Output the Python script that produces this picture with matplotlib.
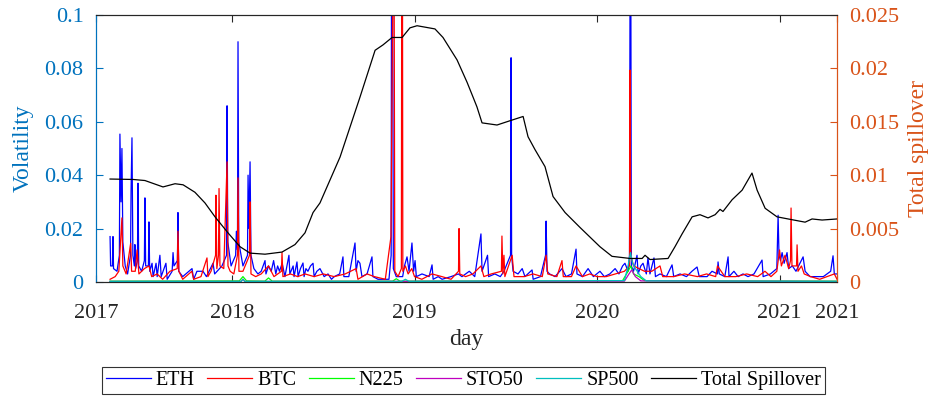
import numpy as np
import matplotlib
matplotlib.use("Agg")
import matplotlib.pyplot as plt
from matplotlib.ticker import FormatStrFormatter

plt.rcParams['font.family'] = ['Liberation Serif', 'DejaVu Serif']

# ETH volatility (decimal year, value)
eth_x = [2017.332, 2017.335, 2017.345, 2017.348, 2017.351, 2017.370, 2017.383, 2017.386, 2017.392, 2017.397,
         2017.402, 2017.415, 2017.428, 2017.444, 2017.447, 2017.452, 2017.457, 2017.465, 2017.468, 2017.472,
         2017.482, 2017.485, 2017.489, 2017.505, 2017.520, 2017.523, 2017.527, 2017.542, 2017.545, 2017.549,
         2017.562, 2017.568, 2017.584, 2017.590, 2017.605, 2017.612, 2017.638, 2017.645, 2017.672, 2017.677,
         2017.682, 2017.701, 2017.704, 2017.708, 2017.730, 2017.781, 2017.790, 2017.808, 2017.841, 2017.860,
         2017.896, 2017.905, 2017.945, 2017.970, 2017.973, 2017.977, 2017.995, 2018.020, 2018.024, 2018.030,
         2018.033, 2018.037, 2018.060, 2018.085, 2018.088, 2018.093, 2018.099, 2018.104, 2018.120, 2018.142,
         2018.160, 2018.181, 2018.186, 2018.200, 2018.215, 2018.228, 2018.240, 2018.250, 2018.260, 2018.275,
         2018.290, 2018.312, 2018.317, 2018.335, 2018.340, 2018.356, 2018.362, 2018.375, 2018.389, 2018.395,
         2018.405, 2018.416, 2018.430, 2018.444, 2018.450, 2018.465, 2018.482, 2018.505, 2018.526, 2018.545,
         2018.560, 2018.590, 2018.608, 2018.613, 2018.640, 2018.674, 2018.680, 2018.690, 2018.701, 2018.712,
         2018.740, 2018.767, 2018.772, 2018.800, 2018.860, 2018.872, 2018.874, 2018.880, 2018.884, 2018.900,
         2018.935, 2018.945, 2018.959, 2018.970, 2018.986, 2018.995, 2019.003, 2019.010, 2019.041, 2019.080,
         2019.096, 2019.102, 2019.130, 2019.151, 2019.200, 2019.240, 2019.260, 2019.300, 2019.330, 2019.364,
         2019.370, 2019.400, 2019.406, 2019.440, 2019.470, 2019.490, 2019.526, 2019.529, 2019.532, 2019.540,
         2019.567, 2019.590, 2019.605, 2019.644, 2019.650, 2019.690, 2019.718, 2019.721, 2019.726, 2019.740,
         2019.770, 2019.808, 2019.830, 2019.860, 2019.885, 2019.890, 2019.920, 2019.951, 2019.980, 2020.016,
         2020.040, 2020.070, 2020.099, 2020.120, 2020.140, 2020.153, 2020.170, 2020.178, 2020.181, 2020.185,
         2020.188, 2020.200, 2020.219, 2020.225, 2020.240, 2020.252, 2020.270, 2020.279, 2020.290, 2020.312,
         2020.320, 2020.345, 2020.380, 2020.411, 2020.420, 2020.455, 2020.490, 2020.520, 2020.548, 2020.560,
         2020.603, 2020.630, 2020.660, 2020.663, 2020.670, 2020.700, 2020.718, 2020.723, 2020.750, 2020.773,
         2020.800, 2020.827, 2020.860, 2020.904, 2020.910, 2020.950, 2020.985, 2020.992, 2020.997, 2021.005,
         2021.014, 2021.025, 2021.041, 2021.050, 2021.070, 2021.090, 2021.129, 2021.140, 2021.167, 2021.205,
         2021.240, 2021.280, 2021.293, 2021.300, 2021.315]
eth_v = [0.017, 0.006, 0.006, 0.017, 0.005, 0.004, 0.010, 0.0554, 0.030, 0.050,
         0.015, 0.006, 0.003, 0.010, 0.034, 0.054, 0.010, 0.006, 0.014, 0.005,
         0.008, 0.037, 0.006, 0.004, 0.008, 0.0315, 0.006, 0.006, 0.0225, 0.004,
         0.007, 0.002, 0.007, 0.002, 0.010, 0.002, 0.007, 0.001, 0.004, 0.011,
         0.006, 0.008, 0.026, 0.004, 0.002, 0.005, 0.001, 0.004, 0.004, 0.002,
         0.007, 0.003, 0.006, 0.010, 0.066, 0.015, 0.006, 0.010, 0.019, 0.012,
         0.090, 0.015, 0.006, 0.010, 0.040, 0.020, 0.045, 0.010, 0.005, 0.003,
         0.004, 0.008, 0.003, 0.006, 0.004, 0.008, 0.003, 0.006, 0.004, 0.007,
         0.002, 0.010, 0.003, 0.006, 0.002, 0.0075, 0.002, 0.005, 0.0071, 0.002,
         0.005, 0.004, 0.006, 0.007, 0.002, 0.004, 0.005, 0.002, 0.003, 0.001,
         0.002, 0.003, 0.0094, 0.002, 0.002, 0.0146, 0.004, 0.008, 0.007, 0.002,
         0.003, 0.0094, 0.002, 0.001, 0.001, 0.010, 0.120, 0.120, 0.005, 0.002,
         0.002, 0.006, 0.0094, 0.004, 0.0146, 0.004, 0.008, 0.002, 0.003, 0.002,
         0.0064, 0.001, 0.002, 0.001, 0.002, 0.003, 0.002, 0.004, 0.002, 0.018,
         0.004, 0.010, 0.002, 0.003, 0.002, 0.004, 0.010, 0.084, 0.010, 0.004,
         0.003, 0.005, 0.002, 0.0045, 0.001, 0.002, 0.010, 0.0228, 0.004, 0.003,
         0.002, 0.005, 0.002, 0.003, 0.0123, 0.003, 0.002, 0.005, 0.002, 0.004,
         0.002, 0.003, 0.005, 0.003, 0.006, 0.007, 0.004, 0.010, 0.120, 0.120,
         0.006, 0.004, 0.010, 0.003, 0.006, 0.007, 0.003, 0.009, 0.003, 0.009,
         0.002, 0.003, 0.002, 0.0064, 0.002, 0.003, 0.002, 0.004, 0.0056, 0.002,
         0.002, 0.004, 0.003, 0.0075, 0.003, 0.002, 0.0094, 0.002, 0.004, 0.002,
         0.003, 0.002, 0.003, 0.0082, 0.002, 0.003, 0.005, 0.025, 0.010, 0.008,
         0.011, 0.007, 0.011, 0.005, 0.006, 0.004, 0.0094, 0.004, 0.002, 0.002,
         0.002, 0.004, 0.0098, 0.003, 0.003]

# BTC volatility
btc_x = [2017.332, 2017.360, 2017.380, 2017.397, 2017.402, 2017.420, 2017.445, 2017.450, 2017.470, 2017.480,
         2017.490, 2017.520, 2017.545, 2017.560, 2017.590, 2017.620, 2017.660, 2017.700, 2017.704, 2017.709,
         2017.730, 2017.780, 2017.790, 2017.830, 2017.863, 2017.868, 2017.885, 2017.910, 2017.912, 2017.917,
         2017.926, 2017.929, 2017.934, 2017.955, 2017.973, 2017.978, 2017.990, 2018.010, 2018.030, 2018.033,
         2018.038, 2018.060, 2018.096, 2018.099, 2018.104, 2018.130, 2018.160, 2018.200, 2018.230, 2018.271,
         2018.274, 2018.279, 2018.320, 2018.360, 2018.400, 2018.450, 2018.500, 2018.560, 2018.620, 2018.680,
         2018.690, 2018.740, 2018.780, 2018.840, 2018.871, 2018.882, 2018.888, 2018.892, 2018.910, 2018.928,
         2018.930, 2018.934, 2018.936, 2018.950, 2018.965, 2018.985, 2019.000, 2019.040, 2019.096, 2019.150,
         2019.200, 2019.241, 2019.244, 2019.248, 2019.280, 2019.320, 2019.364, 2019.380, 2019.420, 2019.476,
         2019.479, 2019.484, 2019.490, 2019.495, 2019.535, 2019.545, 2019.600, 2019.650, 2019.700, 2019.721,
         2019.730, 2019.780, 2019.808, 2019.815, 2019.860, 2019.885, 2019.920, 2019.960, 2020.000, 2020.050,
         2020.100, 2020.150, 2020.178, 2020.181, 2020.185, 2020.200, 2020.230, 2020.260, 2020.300, 2020.345,
         2020.360, 2020.420, 2020.480, 2020.550, 2020.600, 2020.650, 2020.660, 2020.700, 2020.760, 2020.820,
         2020.880, 2020.920, 2020.953, 2020.985, 2021.000, 2021.010, 2021.030, 2021.050, 2021.060, 2021.063,
         2021.068, 2021.093, 2021.096, 2021.101, 2021.120, 2021.135, 2021.170, 2021.220, 2021.260, 2021.300,
         2021.315]
btc_v = [0.001, 0.002, 0.004, 0.024, 0.006, 0.003, 0.0145, 0.004, 0.004, 0.012,
         0.003, 0.005, 0.006, 0.002, 0.003, 0.001, 0.004, 0.005, 0.019, 0.004,
         0.001, 0.004, 0.001, 0.002, 0.009, 0.002, 0.004, 0.010, 0.0325, 0.005,
         0.010, 0.035, 0.006, 0.005, 0.045, 0.006, 0.004, 0.003, 0.010, 0.039,
         0.004, 0.004, 0.010, 0.030, 0.003, 0.002, 0.003, 0.006, 0.002, 0.004,
         0.011, 0.002, 0.003, 0.002, 0.003, 0.002, 0.003, 0.002, 0.003, 0.005,
         0.001, 0.003, 0.002, 0.001, 0.017, 0.120, 0.120, 0.004, 0.002, 0.005,
         0.120, 0.120, 0.004, 0.006, 0.003, 0.005, 0.002, 0.001, 0.003, 0.002,
         0.001, 0.004, 0.020, 0.003, 0.002, 0.003, 0.006, 0.002, 0.003, 0.004,
         0.0172, 0.003, 0.010, 0.002, 0.010, 0.002, 0.002, 0.003, 0.002, 0.010,
         0.003, 0.002, 0.008, 0.002, 0.002, 0.006, 0.002, 0.003, 0.002, 0.002,
         0.003, 0.004, 0.006, 0.0794, 0.010, 0.006, 0.005, 0.004, 0.004, 0.006,
         0.002, 0.002, 0.003, 0.002, 0.003, 0.002, 0.006, 0.002, 0.002, 0.003,
         0.002, 0.004, 0.002, 0.004, 0.012, 0.006, 0.010, 0.005, 0.008, 0.0277,
         0.006, 0.006, 0.0139, 0.004, 0.006, 0.003, 0.002, 0.001, 0.002, 0.003,
         0.001]

# stock indices, near zero except around March 2020
n225_x = [2017.332, 2018.040, 2018.060, 2018.080, 2018.180, 2018.200, 2018.220, 2018.880, 2018.900, 2018.920,
          2020.140, 2020.170, 2020.185, 2020.200, 2020.230, 2020.260, 2021.315]
n225_v = [0.0003, 0.0004, 0.0020, 0.0004, 0.0003, 0.0015, 0.0003, 0.0003, 0.0012, 0.0003,
          0.0005, 0.0040, 0.0060, 0.0030, 0.0020, 0.0005, 0.0003]
sto50_x = [2017.332, 2018.050, 2018.060, 2018.070, 2020.150, 2020.175, 2020.190, 2020.210, 2020.240, 2021.315]
sto50_v = [0.0002, 0.0002, 0.0010, 0.0002, 0.0003, 0.0030, 0.0045, 0.0020, 0.0004, 0.0002]
sp500_x = [2017.332, 2018.050, 2018.060, 2018.070, 2018.930, 2018.950, 2018.970, 2020.150, 2020.170, 2020.183,
           2020.195, 2020.210, 2020.240, 2020.270, 2021.315]
sp500_v = [0.0002, 0.0002, 0.0010, 0.0002, 0.0002, 0.0010, 0.0002, 0.0005, 0.0060, 0.0110,
           0.0070, 0.0050, 0.0020, 0.0004, 0.0002]

# total spillover (right axis)
tot_x = [2017.332, 2017.458, 2017.523, 2017.622, 2017.688, 2017.732, 2017.797, 2017.852, 2017.907, 2017.978,
         2018.044, 2018.099, 2018.181, 2018.274, 2018.345, 2018.400, 2018.444, 2018.482, 2018.592, 2018.701,
         2018.784, 2018.827, 2018.877, 2018.932, 2018.975, 2019.014, 2019.112, 2019.156, 2019.233, 2019.288,
         2019.321, 2019.342, 2019.370, 2019.452, 2019.523, 2019.595, 2019.622, 2019.660, 2019.715, 2019.759,
         2019.825, 2019.907, 2020.016, 2020.082, 2020.181, 2020.247, 2020.263, 2020.290, 2020.389, 2020.427,
         2020.466, 2020.521, 2020.564, 2020.608, 2020.647, 2020.674, 2020.690, 2020.740, 2020.795, 2020.849,
         2020.877, 2020.921, 2020.986, 2021.047, 2021.140, 2021.178, 2021.233, 2021.315]
tot_v = [0.00964, 0.0096, 0.0095, 0.0089, 0.0092, 0.0091, 0.0084, 0.0074, 0.0061, 0.0046,
         0.0033, 0.0027, 0.0026, 0.0028, 0.0035, 0.0046, 0.0065, 0.0074, 0.0117, 0.0173,
         0.0217, 0.0222, 0.0229, 0.0229, 0.0238, 0.0240, 0.0237, 0.0229, 0.0208, 0.0187,
         0.0173, 0.0164, 0.0149, 0.0147, 0.0151, 0.0155, 0.0136, 0.0124, 0.0108, 0.0080,
         0.0065, 0.0051, 0.0033, 0.0024, 0.0022, 0.0022, 0.0025, 0.0021, 0.0022, 0.0033,
         0.0045, 0.0061, 0.0063, 0.0060, 0.0063, 0.0068, 0.0066, 0.0077, 0.0086, 0.0102,
         0.0086, 0.0069, 0.0061, 0.0059, 0.0056, 0.0059, 0.0058, 0.0059]

tick_pos = [2017.255, 2018, 2019, 2020, 2021, 2021.315]
tick_lab = ['2017', '2018', '2019', '2020', '2021', '2021']

left_col = (0, 0.447, 0.741)
right_col = (0.85, 0.325, 0.098)

fig = plt.figure(figsize=(9.34, 3.96), dpi=100)
ax = fig.add_axes([0.1028, 0.288, 0.7934, 0.674])
ax2 = ax.twinx()

lw = 0.9
h1, = ax.plot(eth_x, eth_v, color='b', lw=lw, label='ETH')
h2, = ax.plot(btc_x, btc_v, color='r', lw=lw, label='BTC')
h3, = ax.plot(n225_x, n225_v, color='#00ff00', lw=lw, label='N225')
h4, = ax.plot(sto50_x, sto50_v, color='m', lw=lw, label='STO50')
h5, = ax.plot(sp500_x, sp500_v, color='c', lw=lw, label='SP500')
h6, = ax2.plot(tot_x, tot_v, color='k', lw=0.9, label='Total Spillover')

ax.set_xlim(tick_pos[0], tick_pos[-1])
ax.set_ylim(0, 0.1)
ax2.set_ylim(0, 0.025)
ax.set_xticks(tick_pos)
ax.set_xticklabels(tick_lab)
ax.set_yticks([0, 0.02, 0.04, 0.06, 0.08, 0.1])
ax2.set_yticks([0, 0.005, 0.01, 0.015, 0.02, 0.025])
ax.yaxis.set_major_formatter(FormatStrFormatter('%g'))
ax2.yaxis.set_major_formatter(FormatStrFormatter('%g'))

ax.tick_params(axis='x', direction='in', top=True, labelsize=16, length=5, pad=16, colors='#262626')
ax.tick_params(axis='y', direction='in', colors=left_col, labelsize=16, length=5, pad=9)
ax2.tick_params(axis='y', direction='in', colors=right_col, labelsize=16, length=5, pad=9)
for s in ['top', 'bottom']:
    ax.spines[s].set_color('#262626')
    ax2.spines[s].set_color('#262626')
ax2.spines['left'].set_color(left_col)
ax2.spines['right'].set_color(right_col)
ax.spines['left'].set_color(left_col)
ax.spines['right'].set_color(right_col)

ax.set_xlabel('day', fontsize=17, labelpad=4, color='#262626')
ax.set_ylabel('Volatility', fontsize=17, color=left_col, labelpad=8)
ax2.set_ylabel('Total spillover', fontsize=17, color=right_col, labelpad=6)

leg = fig.legend(handles=[h1, h2, h3, h4, h5, h6], loc='lower center', ncol=6,
                 bbox_to_anchor=(0.496, 0.0), fontsize=14.5, frameon=True, fancybox=False,
                 handlelength=2.25, handletextpad=0.25, columnspacing=0.6, borderpad=0.2,
                 borderaxespad=0.1)
leg.get_frame().set_edgecolor('k')
leg.get_frame().set_linewidth(0.8)

fig.savefig('out.png', dpi=100)
